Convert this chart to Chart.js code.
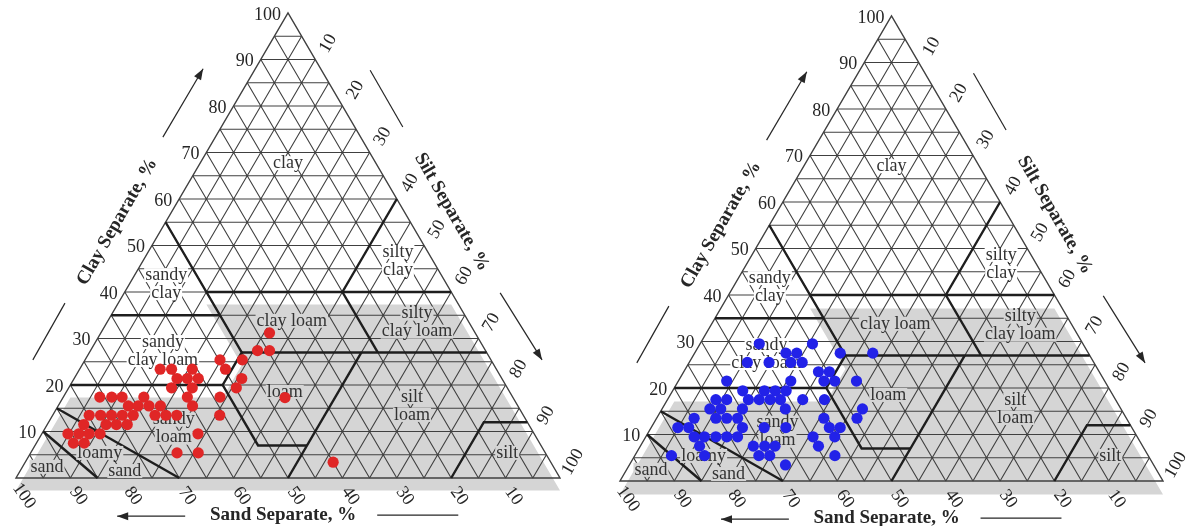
<!DOCTYPE html>
<html>
<head>
<meta charset="utf-8">
<script src="https://cdn.jsdelivr.net/npm/chart.js@4.4.1/dist/chart.umd.min.js"></script>
<style>
  html, body { margin: 0; padding: 0; background: #fff; }
  #wrap { position: relative; width: 1192px; height: 526px; overflow: hidden; }
  .box { position: absolute; top: 0; width: 596px; height: 526px; }
</style>
</head>
<body>
<div id="wrap">
  <div class="box" style="left:0"><canvas id="left" width="596" height="526"></canvas></div>
  <div class="box" style="left:596px"><canvas id="right" width="596" height="526"></canvas></div>
</div>
<script>
// tick labels on all three sides
const tickValues = [10, 20, 30, 40, 50, 60, 70, 80, 90, 100];

// red samples (left triangle), sand % and clay %
const redSand = [37.8, 41.9, 39.7, 49.8, 45.7, 61.8, 59.7, 55.9, 49.8, 59.7, 57.8, 55.8, 47.8,
  61.7, 57.9, 49.8, 41.9, 75.9, 73.7, 71.8, 67.8, 59.8, 53.8, 71.6, 69.8, 67.8, 65.7, 59.8,
  79.8, 77.7, 75.7, 73.7, 71.7, 67.7, 65.7, 63.7, 55.8, 81.8, 77.7, 75.8, 73.8,
  85.7, 83.7, 81.8, 79.8, 61.8, 85.7, 83.7, 67.7, 63.8, 40.0];
const redClay = [31.2, 27.4, 27.4, 25.4, 25.4, 23.4, 23.4, 23.4, 23.4, 21.4, 21.4, 21.4, 21.4,
  19.4, 19.4, 19.4, 17.3, 17.4, 17.4, 17.4, 17.4, 17.4, 17.4, 15.5, 15.5, 15.5, 15.5, 15.5,
  13.5, 13.5, 13.5, 13.5, 13.5, 13.5, 13.5, 13.5, 13.5, 11.5, 11.5, 11.5, 11.5,
  9.5, 9.5, 9.5, 9.5, 9.5, 7.5, 7.5, 5.4, 5.4, 3.4];

// blue samples (right triangle)
const blueSand = [59.6, 49.8,
  55.7, 53.7, 45.7, 39.7,
  63.8, 59.8, 55.8, 53.7,
  51.7, 49.7,
  69.6, 57.8, 51.7, 49.7, 45.7,
  67.7, 63.7, 61.7, 59.7,
  73.6, 71.6, 67.6, 65.6, 63.6, 61.7, 57.6, 53.6,
  75.7, 73.7, 69.7, 61.8, 47.6,
  79.6, 75.6, 73.6, 71.6, 55.7, 49.6,
  83.6, 81.6, 71.7, 67.7, 63.7, 55.7, 53.7,
  81.6, 79.7, 77.6, 75.6, 73.6, 59.7, 55.7,
  81.6, 71.7, 69.6, 67.7, 59.7,
  87.8, 81.7, 71.7, 69.7, 57.7,
  67.8];
const blueClay = [29.5, 29.5,
  27.5, 27.5, 27.5, 27.5,
  25.5, 25.5, 25.5, 25.5,
  23.5, 23.5,
  21.5, 21.5, 21.5, 21.5, 21.5,
  19.4, 19.4, 19.4, 19.4,
  17.5, 17.5, 17.5, 17.5, 17.5, 17.5, 17.5, 17.5,
  15.5, 15.5, 15.5, 15.5, 15.5,
  13.5, 13.5, 13.5, 13.5, 13.5, 13.5,
  11.5, 11.5, 11.5, 11.5, 11.5, 11.5, 11.5,
  9.5, 9.5, 9.5, 9.5, 9.5, 9.5, 9.5,
  7.5, 7.5, 7.5, 7.5, 7.5,
  5.45, 5.45, 5.45, 5.45, 5.45,
  3.45];

// texture class names
const classNames = [['clay'], ['silty', 'clay'], ['sandy', 'clay'], ['clay loam'], ['silty', 'clay loam'],
  ['sandy', 'clay loam'], ['loam'], ['silt', 'loam'], ['sandy', 'loam'], ['loamy'], ['sand'], ['sand'], ['silt']];

// where the names sit (plot x %, clay %), and if they are on the grey shade
const classPlaces = [[50, 67.7, 0], [70.2, 46.7, 0], [27.6, 41.7, 0], [50.7, 33.8, 1], [73.7, 33.4, 1],
  [27.0, 27.3, 0], [49.4, 18.5, 1], [72.8, 15.5, 1], [29.0, 10.6, 1], [15.4, 5.4, 1], [5.7, 2.4, 1],
  [20.0, 1.5, 1], [90.3, 5.4, 1]];

// USDA class boundaries as [sand, clay] polylines
const borders = [
  [[45, 55], [45, 27], [52, 20], [52, 7], [43, 7]],
  [[80, 20], [52, 20]],
  [[65, 35], [45, 35]],
  [[45, 40], [0, 40]],
  [[20, 40], [0, 60]],
  [[45, 27], [0, 27]],
  [[20, 40], [20, 27]],
  [[23, 27], [50, 0]],
  [[20, 0], [8, 12], [0, 12]],
  [[85, 0], [90, 10]],
  [[70, 0], [85, 15]]
];

// grey shade outline [sand, clay]
const shade = [[80, 20], [100, 0], [0, 0], [0, 40], [45, 40], [45, 27], [52, 20]];

const GREY = '#d5d5d5';
const INK = '#262626';

function toPlot(sand, clay) {
  return { x: 100 - sand - clay / 2, y: clay };
}

function arrow(ctx, a, b, head) {
  ctx.beginPath();
  ctx.moveTo(a[0], a[1]);
  ctx.lineTo(b[0], b[1]);
  ctx.stroke();
  if (!head) return;
  const ang = Math.atan2(b[1] - a[1], b[0] - a[0]);
  ctx.beginPath();
  ctx.moveTo(b[0], b[1]);
  ctx.lineTo(b[0] - 11 * Math.cos(ang) + 4 * Math.sin(ang), b[1] - 11 * Math.sin(ang) - 4 * Math.cos(ang));
  ctx.lineTo(b[0] - 11 * Math.cos(ang) - 4 * Math.sin(ang), b[1] - 11 * Math.sin(ang) + 4 * Math.cos(ang));
  ctx.closePath();
  ctx.fill();
}

const ternary = {
  id: 'ternary',
  beforeDatasetsDraw(chart, args, opts) {
    const ctx = chart.ctx;
    const sx = chart.scales.x, sy = chart.scales.y;
    const px = (X, Y) => [sx.getPixelForValue(X), sy.getPixelForValue(Y)];
    const tp = (sand, clay) => { const p = toPlot(sand, clay); return px(p.x, p.y); };
    ctx.save();

    // grey shade, printed a bit off register
    ctx.fillStyle = GREY;
    ctx.beginPath();
    shade.forEach((s, i) => {
      const p = tp(s[0], s[1]);
      if (i === 0) ctx.moveTo(p[0], p[1] + opts.shift); else ctx.lineTo(p[0], p[1] + opts.shift);
    });
    ctx.closePath();
    ctx.fill();

    // 5 % mesh
    ctx.strokeStyle = '#404040';
    ctx.lineWidth = 1.1;
    ctx.beginPath();
    const seg = (a, b) => { ctx.moveTo(a[0], a[1]); ctx.lineTo(b[0], b[1]); };
    for (let v = 5; v < 100; v += 5) {
      seg(tp(100 - v, v), tp(0, v));
      seg(tp(v, 0), tp(v, 100 - v));
      seg(tp(100 - v, 0), tp(0, 100 - v));
    }
    ctx.stroke();

    ctx.lineWidth = 1.4;
    ctx.beginPath();
    const A = tp(100, 0), B = tp(0, 0), C = tp(0, 100);
    ctx.moveTo(A[0], A[1]); ctx.lineTo(B[0], B[1]); ctx.lineTo(C[0], C[1]); ctx.closePath();
    ctx.stroke();

    // class boundaries
    ctx.strokeStyle = '#1e1e1e';
    ctx.lineWidth = 2.4;
    ctx.lineJoin = 'miter';
    borders.forEach(line => {
      ctx.beginPath();
      line.forEach((s, i) => {
        const p = tp(s[0], s[1]);
        if (i === 0) ctx.moveTo(p[0], p[1]); else ctx.lineTo(p[0], p[1]);
      });
      ctx.stroke();
    });

    // class names
    ctx.font = '18px "Liberation Serif"';
    ctx.textAlign = 'center';
    ctx.textBaseline = 'middle';
    classNames.forEach((lines, i) => {
      const pl = classPlaces[i];
      const c = px(pl[0], pl[1]);
      lines.forEach((t, j) => {
        const y = c[1] + (j - (lines.length - 1) / 2) * 18;
        const w = ctx.measureText(t).width;
        ctx.fillStyle = pl[2] ? GREY : '#fff';
        ctx.fillRect(c[0] - w / 2 - 1, y - 7, w + 2, 14);
        ctx.fillStyle = '#333';
        ctx.fillText(t, c[0], y);
      });
    });

    // tick numbers
    ctx.fillStyle = INK;
    tickValues.forEach(v => {
      // clay, left side
      let p = tp(100 - v, v);
      ctx.textAlign = 'right';
      ctx.fillText(String(v), p[0] - 7, p[1] + 2);
      ctx.textAlign = 'center';
      // silt, right side
      p = tp(0, 100 - v);
      ctx.save();
      ctx.translate(p[0] + 13, p[1] - 16);
      ctx.rotate(-Math.PI / 3);
      ctx.fillText(String(v), 0, 0);
      ctx.restore();
      // sand, base
      p = tp(v, 0);
      ctx.save();
      ctx.translate(p[0] + 8, p[1] + 18);
      ctx.rotate(Math.PI / 3 - 0.1);
      ctx.fillText(String(v), 0, 0);
      ctx.restore();
    });

    // axis titles
    ctx.font = 'bold 19px "Liberation Serif"';
    let p = px(18.6, 55.1);
    ctx.save(); ctx.translate(p[0], p[1]); ctx.rotate(-Math.PI / 3); ctx.fillText('Clay Separate, %', 0, 0); ctx.restore();
    p = px(80.1, 57.2);
    ctx.save(); ctx.translate(p[0], p[1]); ctx.rotate(Math.PI / 3); ctx.fillText('Silt Separate, %', 0, 0); ctx.restore();
    p = px(49.1, -8.0);
    ctx.fillText('Sand Separate, %', p[0], p[1]);

    // arrows and rules
    ctx.strokeStyle = INK;
    ctx.fillStyle = INK;
    ctx.lineWidth = 1.2;
    arrow(ctx, px(27.0, 73.3), px(34.4, 88.0), true);
    arrow(ctx, px(3.1, 25.4), px(9.0, 37.6), false);
    arrow(ctx, px(65.1, 87.7), px(71.1, 75.5), false);
    arrow(ctx, px(89.0, 39.8), px(96.7, 25.4), true);
    arrow(ctx, px(31.1, -8.2), px(18.6, -8.2), true);
    arrow(ctx, px(66.4, -8.0), px(81.3, -8.0), false);

    ctx.restore();
  }
};

function makeChart(id, sand, clay, color, pad, shift) {
  new Chart(document.getElementById(id), {
    type: 'scatter',
    data: {
      datasets: [{
        data: sand.map((s, i) => toPlot(s, clay[i])),
        pointRadius: 5.6,
        pointBackgroundColor: color,
        pointBorderWidth: 0,
        showLine: false,
        clip: false
      }]
    },
    options: {
      responsive: false,
      animation: false,
      layout: { padding: pad },
      scales: {
        x: { type: 'linear', min: 0, max: 100, display: false },
        y: { type: 'linear', min: 0, max: 100, display: false }
      },
      plugins: {
        legend: { display: false },
        tooltip: { enabled: false },
        ternary: { shift: shift }
      }
    },
    plugins: [ternary]
  });
}

makeChart('left', redSand, redClay, '#e02626', { left: 16, right: 36, top: 13, bottom: 48 }, 12.5);
makeChart('right', blueSand, blueClay, '#2222e8', { left: 24, right: 29, top: 16, bottom: 45 }, 13.5);
</script>
</body>
</html>
